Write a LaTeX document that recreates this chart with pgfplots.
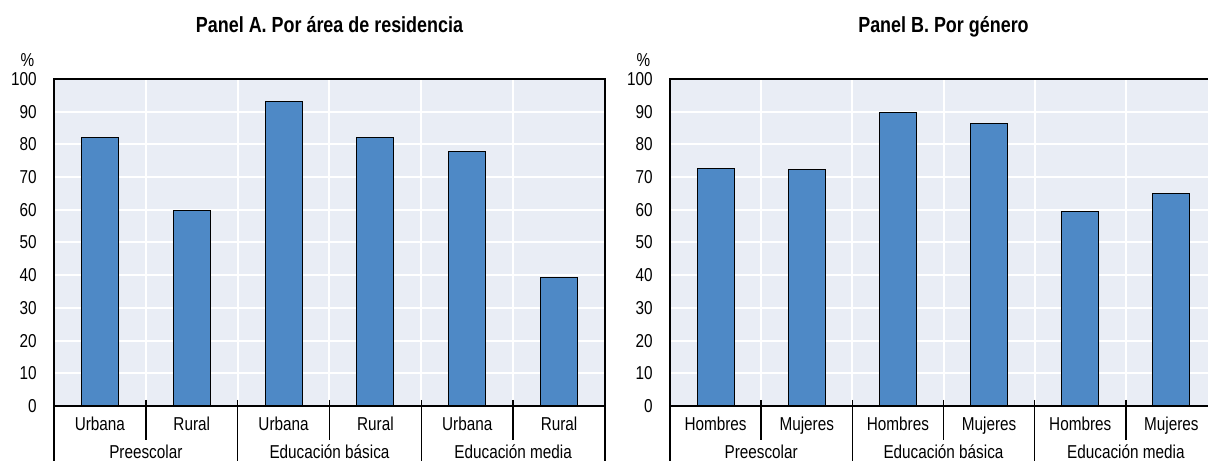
\documentclass[border=0pt]{standalone}
\usepackage{fontspec}
\setmainfont{Liberation Sans}[FakeStretch=0.82]
\usepackage{pgfplots}
\pgfplotsset{compat=1.18}

\definecolor{barblue}{RGB}{78,137,198}
\definecolor{bgblue}{RGB}{233,237,245}

\pgfplotstableread{
x val
0 82.2
1 59.8
2 93.1
3 82.0
4 77.9
5 39.4
}\residencia
\pgfplotstableread{
x val
0 72.6
1 72.2
2 89.8
3 86.5
4 59.5
5 65.0
}\genero

\tikzset{seps/.style={line width=1.2pt}}
\newcommand{\lbl}{\fontsize{14}{16}\selectfont}
\pgfplotsset{
  panel/.style={
    scale only axis, height=245.25pt,
    anchor=south west,
    ymin=0, ymax=100, ytick={0,10,...,100},
    xmin=-0.5, xmax=5.5, xtick={0,...,5},
    minor xtick={0.5,1.5,...,4.5},
    axis background/.style={fill=bgblue},
    ymajorgrids, xminorgrids,
    major grid style={white, line width=1.5pt},
    minor grid style={white, line width=1.5pt},
    major tick length=0pt, minor tick length=0pt,
    axis line style={black, line width=1.4pt},
    tick label style={font=\lbl},
    xticklabel style={anchor=base, yshift=-18pt},
    yticklabel style={xshift=-9.5pt},
    /pgf/number format/assume math mode=true,
    ybar, bar width=27.75pt, clip=false,
  },
}

\newcommand{\groups}{%
  \draw[seps] (axis cs:-0.5,0) -- ++(0pt,-41.25pt);
  \draw[seps] (axis cs:5.5,0) -- ++(0pt,-41.25pt);
  \draw[seps] (axis cs:0.5,0) ++(0pt,4.5pt) -- ++(0pt,-30pt);
  \draw[seps] (axis cs:2.5,0) ++(0pt,4.5pt) -- ++(0pt,-30pt);
  \draw[seps] (axis cs:4.5,0) ++(0pt,4.5pt) -- ++(0pt,-30pt);
  \draw[seps] (axis cs:1.5,0) ++(0pt,4.5pt) -- ++(0pt,-47pt);
  \draw[seps] (axis cs:3.5,0) ++(0pt,4.5pt) -- ++(0pt,-47pt);
  \node[anchor=base, font=\lbl] at ([yshift=-39pt]axis cs:0.5,0) {Preescolar};
  \node[anchor=base, font=\lbl] at ([yshift=-39pt]axis cs:2.5,0) {Educación básica};
  \node[anchor=base, font=\lbl] at ([yshift=-39pt]axis cs:4.5,0) {Educación media};
  \node[font=\lbl] at ([xshift=-20pt, yshift=14.25pt]rel axis cs:0,1) {\%};
}

\begin{document}
\begin{tikzpicture}
\begin{axis}[panel, at={(40.5pt,41.25pt)}, width=413.25pt,
  xticklabels={Urbana,Rural,Urbana,Rural,Urbana,Rural}]
\addplot[fill=barblue, draw=black, line width=0.75pt] table[x=x, y=val] {\residencia};
\groups
\node[anchor=base, font=\bfseries\fontsize{16.4}{18}\selectfont] at ([yshift=34.5pt]rel axis cs:0.5,1) {Panel A. Por área de residencia};
\end{axis}
\begin{axis}[panel, at={(502.5pt,41.25pt)}, width=410.25pt,
  xticklabels={Hombres,Mujeres,Hombres,Mujeres,Hombres,Mujeres}]
\addplot[fill=barblue, draw=black, line width=0.75pt] table[x=x, y=val] {\genero};
\groups
\node[anchor=base, font=\bfseries\fontsize{16.4}{18}\selectfont] at ([yshift=34.5pt]rel axis cs:0.5,1) {Panel B. Por género};
\end{axis}
\pgfresetboundingbox
\useasboundingbox (0,0) rectangle (906pt,345.75pt);
\end{tikzpicture}
\end{document}
